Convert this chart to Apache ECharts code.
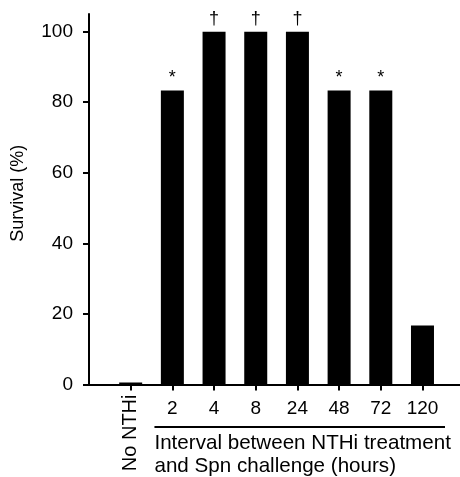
<!DOCTYPE html>
<html>
<head>
<meta charset="utf-8">
<script src="https://cdn.jsdelivr.net/npm/echarts@6/dist/echarts.min.js"></script>
<style>
html,body{margin:0;padding:0;background:#fff;}
#chart{width:460px;height:477px;}
</style>
</head>
<body>
<div id="chart"></div>
<script>
const categories = ['No NTHi', '2', '4', '8', '24', '48', '72', '120'];
const survival = [0, 83.3, 100, 100, 100, 83.3, 83.3, 16.7];
const significance = ['', '*', '\u2020', '\u2020', '\u2020', '*', '*', ''];
const yTicks = [0, 20, 40, 60, 80, 100];
const yTitle = 'Survival (%)';
const xTitleLines = ['Interval between NTHi treatment', 'and Spn challenge (hours)'];

const FONT = '"Liberation Sans", Arial, Helvetica, sans-serif';
const positions = categories.map((c, i) => i + 1);
const hourPositions = positions.slice(1);

const chart = echarts.init(document.getElementById('chart'), null, {renderer: 'canvas'});

chart.setOption({
  animation: false,
  backgroundColor: '#fff',
  grid: {left: 89, right: 0, top: 14, bottom: 92.5, containLabel: false},
  xAxis: [
    {
      type: 'value', min: 0, max: 8.9, position: 'bottom',
      axisLine: {show: true, lineStyle: {color: '#000', width: 2}},
      axisTick: {show: true, length: 6, lineStyle: {color: '#000', width: 2}, customValues: positions},
      axisLabel: {
        show: true, customValues: hourPositions, margin: 15,
        fontFamily: FONT, fontSize: 19, color: '#000',
        formatter: v => categories[Math.round(v) - 1]
      },
      splitLine: {show: false}
    },
    {
      type: 'value', min: 0, max: 8.9, position: 'bottom',
      axisLine: {show: false}, axisTick: {show: false},
      axisLabel: {
        show: true, customValues: [positions[0]], rotate: 90, margin: 10,
        fontFamily: FONT, fontSize: 20, color: '#000',
        formatter: v => categories[Math.round(v) - 1]
      },
      splitLine: {show: false}
    }
  ],
  yAxis: {
    type: 'value', min: 0, max: 105,
    name: yTitle, nameLocation: 'middle', nameRotate: 90, nameGap: 62,
    nameTextStyle: {fontFamily: FONT, fontSize: 18, color: '#000', padding: [0, 0, 0, 12]},
    axisLine: {show: true, lineStyle: {color: '#000', width: 2}},
    axisTick: {show: true, length: 6, lineStyle: {color: '#000', width: 2}, customValues: yTicks},
    axisLabel: {show: true, customValues: yTicks, margin: 16, fontFamily: FONT, fontSize: 19, color: '#000'},
    splitLine: {show: false}
  },
  series: [{
    type: 'bar',
    xAxisIndex: 0,
    barWidth: 23,
    barMinHeight: 2,
    itemStyle: {color: '#000'},
    label: {
      show: true, position: 'top', distance: 4,
      fontFamily: FONT, fontSize: 18, color: '#000',
      formatter: p => significance[p.dataIndex]
    },
    data: survival.map((v, i) => [positions[i], v])
  }]
});

const x0 = chart.convertToPixel({xAxisIndex: 0}, positions[1]);
const x1 = chart.convertToPixel({xAxisIndex: 0}, positions[positions.length - 1]);
const unit = chart.convertToPixel({xAxisIndex: 0}, 1) - chart.convertToPixel({xAxisIndex: 0}, 0);
const lineStart = x0 - unit * 0.43;
const lineEnd = x1 + unit * 0.54;

chart.setOption({
  graphic: [
    {
      type: 'line',
      shape: {x1: lineStart, y1: 427, x2: lineEnd, y2: 427},
      style: {stroke: '#000', lineWidth: 2}
    },
    {
      type: 'text',
      left: lineStart, top: 432,
      style: {
        text: xTitleLines.join('\n'),
        font: '20.6px ' + FONT,
        fill: '#000',
        lineHeight: 23,
        align: 'left'
      }
    }
  ]
});
</script>
</body>
</html>
